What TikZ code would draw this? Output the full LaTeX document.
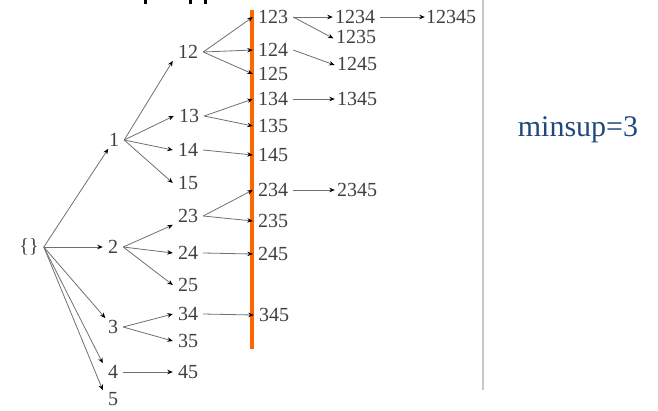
\documentclass[tikz,border=0pt]{standalone}
\usepackage{fontspec}
\setmainfont{Liberation Serif}
\usetikzlibrary{arrows.meta}
\definecolor{txt}{HTML}{404040}
\definecolor{arr}{HTML}{707070}
\definecolor{orangeline}{HTML}{FF6600}
\definecolor{sepgray}{HTML}{C8C8C8}
\definecolor{minsupblue}{HTML}{1F497D}
\begin{document}
\begin{tikzpicture}[x=1pt,y=-1pt,
  item/.style={text=txt,inner xsep=5pt,inner ysep=2pt,font=\fontsize{20}{24}\selectfont},
  link/.style={draw=arr,line width=0.8pt,-{Stealth[length=5.5pt,width=4.5pt,color=black]}},
  frag/.style={fill=black,draw=none}]
\useasboundingbox (0,0) rectangle (658,410);
% cut-off fragments at the top edge
\fill[frag] (144,0) rectangle (147,4);
\fill[frag] (189,0) rectangle (192,4);
\fill[frag] (204,0) rectangle (207,4);
% separator lines
\draw[orangeline,line width=3.5pt] (252,10) -- (252,349);
\draw[sepgray,line width=2pt] (483,0) -- (483,390);
% nodes
\node[item] (root) at (29,247) {\{\}};
\node[item] (n1) at (114,140) {1};
\node[item] (n2) at (113,247) {2};
\node[item] (n3) at (113,327) {3};
\node[item] (n4) at (113,372) {4};
\node[item] (n5) at (113,399) {5};
\node[item] (n12) at (188,52) {12};
\node[item] (n13) at (189,116) {13};
\node[item] (n14) at (188,150) {14};
\node[item] (n15) at (188,183) {15};
\node[item] (n23) at (188,216) {23};
\node[item] (n24) at (188,253) {24};
\node[item] (n25) at (188,285) {25};
\node[item] (n34) at (188,314) {34};
\node[item] (n35) at (188,341) {35};
\node[item] (n45) at (188,372) {45};
\node[item] (n123) at (273,17) {123};
\node[item] (n124) at (273,50) {124};
\node[item] (n125) at (273,74) {125};
\node[item] (n134) at (273,99) {134};
\node[item] (n135) at (273,126) {135};
\node[item] (n145) at (273,155) {145};
\node[item] (n234) at (273,190) {234};
\node[item] (n235) at (273,221) {235};
\node[item] (n245) at (273,254) {245};
\node[item] (n345) at (274,315) {345};
\node[item] (n1234) at (355,17) {1234};
\node[item] (n1235) at (356,37) {1235};
\node[item] (n1245) at (357,64) {1245};
\node[item] (n1345) at (357,99) {1345};
\node[item] (n2345) at (357,190) {2345};
\node[item] (n12345) at (451,17) {12345};
\node[text=minsupblue,font=\fontsize{30}{36}\selectfont] (minsup) at (578,130) {minsup=3};
% connectors
\draw[link] (root.east) -- (n1);
\draw[link] (root.east) -- (n2);
\draw[link] (root.east) -- (n3);
\draw[link] (root.east) -- (n4.north west);
\draw[link] (root.east) -- (n5.north west);
\draw[link] (n1.east) -- (n12.south west);
\draw[link] (n1.east) -- (n13.west);
\draw[link] (n1.east) -- (n14.west);
\draw[link] (n1.east) -- (n15.west);
\draw[link] (n2.east) -- (n23.south west);
\draw[link] (n2.east) -- (n24.west);
\draw[link] (n2.east) -- (n25.west);
\draw[link] (n3.east) -- (n34.west);
\draw[link] (n3.east) -- (n35.west);
\draw[link] (n4.east) -- (n45.west);
\draw[link] (n12.east) -- (n123.west);
\draw[link] (n12.east) -- (n124.west);
\draw[link] (n12.east) -- (n125.west);
\draw[link] (n13.east) -- (n134.west);
\draw[link] (n13.east) -- (n135.west);
\draw[link] (n14.east) -- (n145.west);
\draw[link] (n23.east) -- (n234.west);
\draw[link] (n23.east) -- (n235.west);
\draw[link] (n24.east) -- (n245.west);
\draw[link] (n34.east) -- (n345.west);
\draw[link,shorten >=-3pt] (n123.east) -- (n1234.west);
\draw[link,shorten >=-3pt] (n123.east) -- (n1235.west);
\draw[link,shorten >=-3pt] (n124.east) -- (n1245.west);
\draw[link,shorten >=-3pt] (n134.east) -- (n1345.west);
\draw[link,shorten >=-3pt] (n234.east) -- (n2345.west);
\draw[link,shorten >=-4pt] (n1234.east) -- (n12345.west);
\end{tikzpicture}
\end{document}
